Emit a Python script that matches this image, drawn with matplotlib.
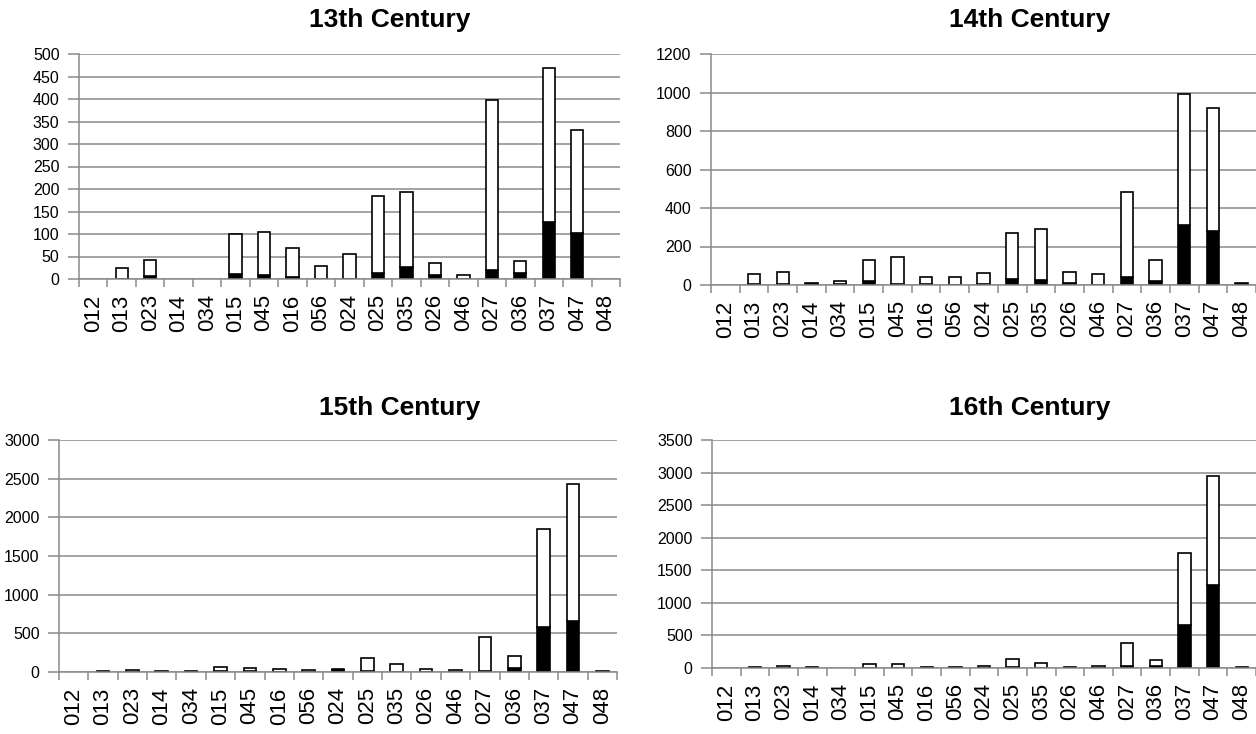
import matplotlib
matplotlib.use("Agg")
import matplotlib.pyplot as plt
import numpy as np

plt.rcParams['font.family'] = ['Liberation Sans', 'DejaVu Sans']

categories = ["012", "013", "023", "014", "034", "015", "045", "016", "056", "024",
              "025", "035", "026", "046", "027", "036", "037", "047", "048"]

titles = ["13th Century", "14th Century", "15th Century", "16th Century"]

# total bar heights and black (bottom) part
total_13 = [0, 25, 42, 0, 0, 100, 105, 70, 30, 55, 185, 193, 35, 8, 398, 40, 470, 332, 0]
black_13 = [0, 0, 6, 0, 0, 12, 9, 4, 0, 0, 14, 27, 9, 0, 19, 13, 126, 103, 0]

total_14 = [0, 55, 68, 12, 20, 130, 148, 42, 42, 60, 270, 292, 68, 55, 482, 130, 990, 922, 12]
black_14 = [0, 3, 3, 12, 5, 20, 3, 3, 0, 3, 32, 25, 8, 0, 42, 22, 312, 282, 12]

total_15 = [0, 10, 20, 10, 10, 70, 55, 40, 25, 40, 180, 100, 45, 25, 455, 210, 1850, 2430, 10]
black_15 = [0, 0, 0, 0, 0, 10, 10, 0, 0, 20, 10, 0, 0, 0, 10, 55, 580, 660, 0]

total_16 = [0, 15, 30, 15, 0, 55, 55, 15, 15, 30, 145, 75, 15, 30, 390, 120, 1770, 2940, 15]
black_16 = [0, 0, 0, 0, 0, 0, 0, 0, 0, 0, 15, 0, 0, 0, 30, 30, 660, 1270, 0]

ymax = [500, 1200, 3000, 3500]
ystep = [50, 200, 500, 500]

data = [(total_13, black_13), (total_14, black_14), (total_15, black_15), (total_16, black_16)]

W, H = 1256, 734
boxes = [  # left, right, top(px), bottom(px)
    (79, 620, 54, 279),
    (711, 1256, 54, 285),
    (59, 617, 440, 672),
    (712, 1256, 440, 668),
]
title_x = [390, 1030, 400, 1030]
title_y = [20, 20, 408, 408]

fig = plt.figure(figsize=(W / 100, H / 100), dpi=100)
grey = "#8a8a8a"

for k in range(4):
    l, r, t, b = boxes[k]
    ax = fig.add_axes([l / W, 1 - b / H, (r - l) / W, (b - t) / H])
    tot = np.array(data[k][0], dtype=float)
    blk = np.array(data[k][1], dtype=float)
    x = np.arange(len(categories))
    bw = 0.43
    mb = blk > 0
    ax.bar(x[mb], blk[mb], width=bw, color="black", edgecolor="black", linewidth=1.2, zorder=3)
    mw = (tot - blk) > 0
    ax.bar(x[mw], (tot - blk)[mw], bottom=blk[mw], width=bw, color="white", edgecolor="black",
           linewidth=1.2, zorder=3)
    ax.set_xlim(-0.5, len(categories) - 0.5)
    ax.set_ylim(0, ymax[k])
    ax.set_yticks(np.arange(0, ymax[k] + 1, ystep[k]))
    ax.yaxis.grid(True, color=grey, linewidth=1.1, zorder=0)
    ax.set_axisbelow(True)
    ax.set_xticks(x)
    ax.set_xticklabels(categories, rotation=90, fontsize=16)
    ax.set_xticks(np.arange(-0.5, len(categories), 1.0), minor=True)
    ax.tick_params(axis='x', which='major', length=0, pad=11)
    ax.tick_params(axis='x', which='minor', length=6, color=grey, width=1.1, direction='out')
    ax.tick_params(axis='y', length=8, color=grey, width=1.1, labelsize=11.5, pad=6)
    for s in ["top", "right"]:
        ax.spines[s].set_visible(False)
    ax.spines["left"].set_color(grey)
    ax.spines["bottom"].set_color(grey)
    ax.spines["left"].set_linewidth(1.1)
    ax.spines["bottom"].set_linewidth(1.1)
    ax.spines["bottom"].set_zorder(4)
    ax.set_facecolor("white")
    fig.text(title_x[k] / W, 1 - title_y[k] / H, titles[k], ha="center", va="center",
             fontsize=19, fontweight="bold")

fig.savefig("out.png", dpi=100)
